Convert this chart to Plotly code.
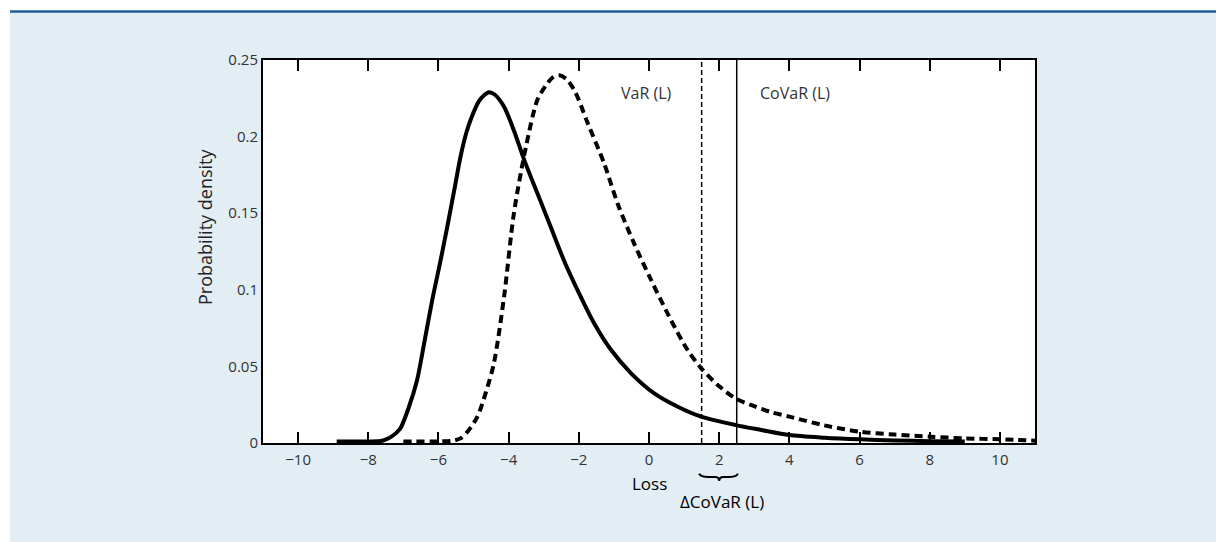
import plotly.graph_objects as go

# ---- data ----
solid_x = [-8.9, -8.0, -7.6, -7.35, -7.1, -6.85, -6.61, -6.4, -6.18, -5.95, -5.75, -5.55,
           -5.37, -5.2, -5.05, -4.85, -4.7, -4.56, -4.4, -4.13, -3.85, -3.56, -3.18, -2.8,
           -2.42, -2.04, -1.56, -1.09, -0.51, 0.15, 0.82, 1.49, 2.47, 3.2, 4.0, 5.0, 6.0,
           7.0, 8.0, 9.0]
solid_y = [0.001, 0.001, 0.0015, 0.004, 0.009, 0.023, 0.041, 0.066, 0.093, 0.118, 0.141, 0.165,
           0.187, 0.203, 0.213, 0.223, 0.227, 0.229, 0.2275, 0.2195, 0.204, 0.185, 0.163, 0.141,
           0.119, 0.100, 0.078, 0.061, 0.0455, 0.0324, 0.0237, 0.0172, 0.0117, 0.0085, 0.0052,
           0.0035, 0.0024, 0.0017, 0.0012, 0.001]

dash_x = [-7.0, -6.0, -5.6, -5.37, -5.15, -4.89, -4.65, -4.42, -4.13, -3.85, -3.51, -3.18,
          -2.95, -2.75, -2.56, -2.35, -2.1, -1.75, -1.28, -0.89, -0.42, 0.06, 0.63, 1.1, 1.49,
          2.0, 2.47, 3.0, 3.5, 4.0, 5.0, 6.0, 7.0, 8.0, 9.0, 10.0, 11.0]
dash_y = [0.001, 0.001, 0.0015, 0.003, 0.008, 0.0172, 0.033, 0.052, 0.0955, 0.150, 0.193, 0.224,
          0.233, 0.2385, 0.240, 0.2375, 0.229, 0.209, 0.1826, 0.156, 0.130, 0.1064, 0.080, 0.0607,
          0.0487, 0.037, 0.029, 0.024, 0.020, 0.0172, 0.0115, 0.0074, 0.0055, 0.0041, 0.003,
          0.0024, 0.0015]

VAR = 1.5
COVAR = 2.5

x_ticks = [-10, -8, -6, -4, -2, 0, 2, 4, 6, 8, 10]
x_tick_labels = ["\u221210", "\u22128", "\u22126", "\u22124", "\u22122", "0", "2", "4", "6", "8", "10"]
y_ticks = [0, 0.05, 0.1, 0.15, 0.2, 0.25]
y_tick_labels = ["0", "0.05", "0.1", "0.15", "0.2", "0.25"]

FONT = "Open Sans"
BG = "#E2EDF4"

fig = go.Figure()

fig.add_trace(go.Scatter(x=solid_x, y=solid_y, mode="lines",
                         line=dict(color="black", width=4, shape="spline", smoothing=0.8),
                         showlegend=False, hoverinfo="skip"))
fig.add_trace(go.Scatter(x=dash_x, y=dash_y, mode="lines",
                         line=dict(color="black", width=4, dash="8px,5px", shape="spline", smoothing=0.8),
                         showlegend=False, hoverinfo="skip"))
fig.add_trace(go.Scatter(x=[VAR, VAR], y=[0, 0.25], mode="lines",
                         line=dict(color="black", width=1.5, dash="5px,3px"),
                         showlegend=False, hoverinfo="skip"))
fig.add_trace(go.Scatter(x=[COVAR, COVAR], y=[0, 0.25], mode="lines",
                         line=dict(color="black", width=1.5),
                         showlegend=False, hoverinfo="skip"))

# background panel and top rule
fig.add_shape(type="rect", xref="paper", yref="paper", x0=-0.4, x1=1.3, y0=1.1253, y1=1.3,
              fillcolor="white", line_width=0, layer="below")
fig.add_shape(type="rect", xref="paper", yref="paper", x0=-0.4, x1=-0.3277, y0=-0.3, y1=1.3,
              fillcolor="white", line_width=0, layer="below")
fig.add_shape(type="line", xref="paper", yref="paper", x0=-0.3277, x1=1.3, y0=1.1265, y1=1.1265,
              line=dict(color="#1F5A9A", width=2.5))

# brace under the Delta CoVaR interval
xm = (VAR + COVAR) / 2
yb0, yb1, yb2 = -0.080, -0.0885, -0.099
brace = (f"M {VAR - 0.07} {yb0} Q {VAR - 0.04} {yb1} {VAR + 0.2} {yb1} "
         f"L {xm - 0.12} {yb1} Q {xm} {yb1} {xm} {yb2} "
         f"Q {xm} {yb1} {xm + 0.12} {yb1} "
         f"L {COVAR - 0.2} {yb1} Q {COVAR + 0.01} {yb1} {COVAR + 0.03} {yb0}")
fig.add_shape(type="path", xref="x", yref="paper", path=brace,
              line=dict(color="black", width=2))

fig.add_annotation(x=VAR, y=0.914, xref="x", yref="paper", text="VaR (L)", showarrow=False,
                   xanchor="right", yanchor="middle", xshift=-28,
                   font=dict(family=FONT, size=16, color="#333"))
fig.add_annotation(x=COVAR, y=0.914, xref="x", yref="paper", text="CoVaR (L)", showarrow=False,
                   xanchor="left", yanchor="middle", xshift=21,
                   font=dict(family=FONT, size=16, color="#333"))
fig.add_annotation(x=0, y=-0.1057, xref="x", yref="paper", text="Loss", showarrow=False,
                   xanchor="center", yanchor="middle",
                   font=dict(family=FONT, size=17, color="#000"))
fig.add_annotation(x=xm, y=-0.1527, xref="x", yref="paper", text="\u0394CoVaR (L)", showarrow=False,
                   xanchor="center", yanchor="middle", xshift=3,
                   font=dict(family=FONT, size=17, color="#000"))
# y-axis title (placed as rotated text, as in the reference it sits above centre)
fig.add_annotation(x=-0.0751, y=0.564, xref="paper", yref="paper", text="Probability density",
                   showarrow=False, textangle=-90, xanchor="center", yanchor="middle",
                   font=dict(family=FONT, size=18, color="#222"))

fig.update_layout(
    width=1216, height=534,
    margin=dict(l=255, r=189, t=52, b=99),
    paper_bgcolor=BG, plot_bgcolor="white",
    font=dict(family=FONT, size=15, color="#333"),
    xaxis=dict(range=[-11, 11], tickvals=x_ticks, ticktext=x_tick_labels,
               ticks="inside", ticklen=11, tickwidth=2, tickcolor="black",
               showline=True, linecolor="black", linewidth=2, mirror="ticks",
               showgrid=False, zeroline=False, ticklabelstandoff=2,
               tickfont=dict(size=15, color="#333")),
    yaxis=dict(range=[0, 0.25], tickvals=y_ticks, ticktext=y_tick_labels, ticks="",
               showline=True, linecolor="black", linewidth=2, mirror=True,
               showgrid=False, zeroline=False, tickfont=dict(size=15, color="#333")),
)

fig.write_html("out.html")
